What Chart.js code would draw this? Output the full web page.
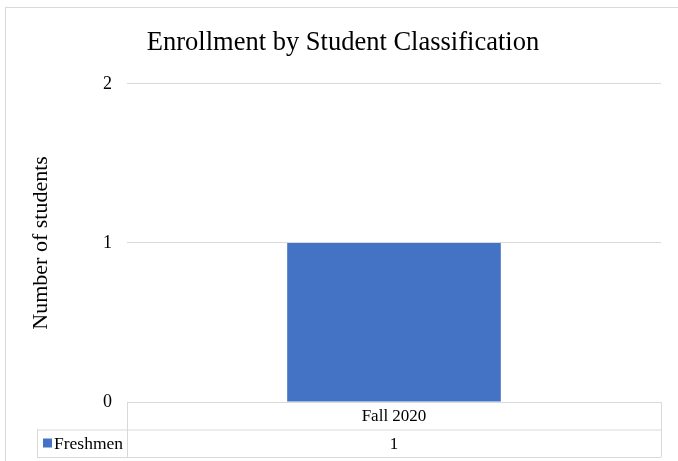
<!DOCTYPE html>
<html>
<head>
<meta charset="utf-8">
<script src="https://cdn.jsdelivr.net/npm/chart.js@4.4.0/dist/chart.umd.min.js"></script>
<style>
    html, body { margin: 0; padding: 0; background: #fff; }
    #wrap { position: relative; width: 678px; height: 461px; overflow: hidden; }
    #frame { position: absolute; left: 5px; top: 7px; width: 720px; height: 520px; border: 1px solid #d9d9d9; }
    #chart { position: absolute; left: 0; top: 0; }
</style>
</head>
<body>
<div id="wrap">
    <div id="frame"></div>
    <canvas id="chart" width="678" height="461"></canvas>
</div>
<script>
const TITLE = 'Enrollment by Student Classification';
const Y_TITLE = 'Number of students';
const categories = ['Fall 2020'];
const seriesName = 'Freshmen';
const freshmen = [1];
const yTicks = [0, 1, 2];

const BLUE = '#4472C4';
const GRID = '#d9d9d9';
const SERIF = '"Liberation Serif", "Times New Roman", serif';

/* ---------- data table under the axis ---------- */
const dataTable = {
    id: 'dataTable',
    afterDraw(chart) {
        const ctx = chart.ctx;
        const x = chart.scales.x;
        const area = chart.chartArea;
        const rowH = 27.5;
        const top = area.bottom;
        const mid = top + rowH;
        const bot = mid + rowH;
        const keyLeft = 37;
        const step = x.width / categories.length;

        ctx.save();
        ctx.strokeStyle = GRID;
        ctx.lineWidth = 1;
        ctx.beginPath();
        ctx.moveTo(area.left, top + 0.5); ctx.lineTo(area.right, top + 0.5);
        ctx.moveTo(keyLeft, mid + 0.5); ctx.lineTo(area.right, mid + 0.5);
        ctx.moveTo(keyLeft, bot + 0.5); ctx.lineTo(area.right, bot + 0.5);
        ctx.moveTo(keyLeft + 0.5, mid); ctx.lineTo(keyLeft + 0.5, bot);
        ctx.moveTo(area.left + 0.5, top); ctx.lineTo(area.left + 0.5, bot);
        categories.forEach((c, i) => {
            const right = Math.round(x.getPixelForValue(i) + step / 2) + 0.5;
            ctx.moveTo(right, top); ctx.lineTo(right, bot);
        });
        ctx.stroke();

        ctx.fillStyle = '#000';
        ctx.font = '17px ' + SERIF;
        ctx.textAlign = 'center';
        ctx.textBaseline = 'middle';
        categories.forEach((c, i) => {
            const cx = x.getPixelForValue(i);
            ctx.fillText(c, cx, top + rowH / 2 + 1);
            ctx.fillText(String(freshmen[i]), cx, mid + rowH / 2 + 1);
        });

        ctx.fillStyle = BLUE;
        ctx.fillRect(keyLeft + 6, mid + 9, 9, 9);
        ctx.fillStyle = '#000';
        ctx.textAlign = 'left';
        ctx.font = '17.5px ' + SERIF;
        ctx.fillText(seriesName, keyLeft + 17, mid + rowH / 2 + 1);
        ctx.restore();
    }
};

new Chart(document.getElementById('chart'), {
    type: 'bar',
    data: {
        labels: categories,
        datasets: [{
            label: seriesName,
            data: freshmen,
            backgroundColor: BLUE,
            barPercentage: 0.4,
            categoryPercentage: 1
        }]
    },
    options: {
        responsive: false,
        animation: false,
        devicePixelRatio: 1,
        layout: { padding: { left: 25, right: 17, top: 8, bottom: 3 } },
        plugins: {
            legend: { display: false },
            tooltip: { enabled: false },
            title: {
                display: true,
                text: TITLE,
                color: '#000',
                font: { family: SERIF, size: 26.5, weight: 'normal' },
                padding: { top: 19, bottom: 25 }
            }
        },
        scales: {
            x: {
                grid: { display: false },
                border: { display: false },
                ticks: { display: false },
                afterFit(scale) { scale.height = 56; }
            },
            y: {
                min: 0,
                max: 2,
                afterBuildTicks(scale) { scale.ticks = yTicks.map(v => ({ value: v })); },
                afterFit(scale) { scale.width = 102; },
                grid: { color: GRID, drawTicks: false },
                border: { display: false },
                ticks: {
                    color: '#000',
                    padding: 15,
                    font: { family: SERIF, size: 18 }
                },
                title: {
                    display: true,
                    text: Y_TITLE,
                    color: '#000',
                    padding: { top: 3, bottom: 0 },
                    font: { family: SERIF, size: 22 }
                }
            }
        }
    },
    plugins: [dataTable]
});
</script>
</body>
</html>
